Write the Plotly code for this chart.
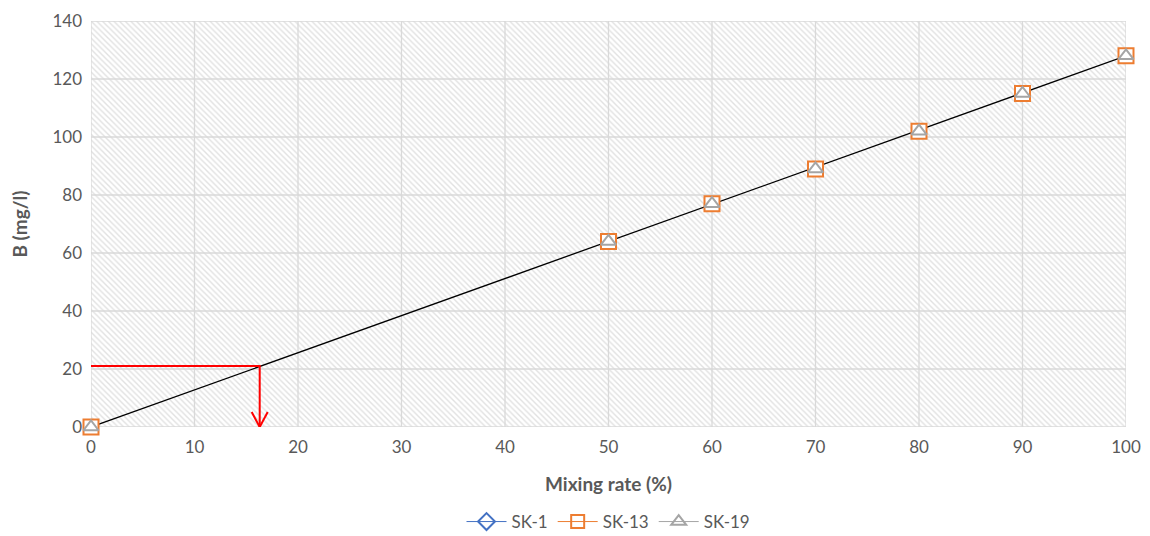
import plotly.graph_objects as go

mixing_rate = [0, 50, 60, 70, 80, 90, 100]
sk1 = [0, 64, 77, 89, 102, 115, 128]
sk13 = [0, 64, 77, 89, 102, 115, 128]
sk19 = [0, 64, 77, 89, 102, 115, 128]
trend_x = [0, 100]
trend_y = [0, 128]
guide_b = 21
guide_rate = 16.3

fig = go.Figure()

# hatched plot background
fig.add_trace(go.Scatter(
    x=[0, 100, 100, 0, 0], y=[0, 0, 140, 140, 0], mode="lines",
    line=dict(width=0), fill="toself", fillcolor="rgba(0,0,0,0)",
    fillpattern=dict(shape="\\", fgcolor="#c4c4c4", bgcolor="white", size=4, solidity=0.35),
    hoverinfo="skip", showlegend=False))

# gridlines on top of hatch
for gx in range(0, 101, 10):
    fig.add_trace(go.Scatter(x=[gx, gx], y=[0, 140], mode="lines",
                             line=dict(color="#d9d9d9", width=1.3), hoverinfo="skip", showlegend=False))
for gy in range(0, 141, 20):
    fig.add_trace(go.Scatter(x=[0, 100], y=[gy, gy], mode="lines",
                             line=dict(color="#d9d9d9", width=1.3), hoverinfo="skip", showlegend=False))

# trend line
fig.add_trace(go.Scatter(x=trend_x, y=trend_y, mode="lines",
                         line=dict(color="#000000", width=1.3), showlegend=False, hoverinfo="skip"))

# red guide
fig.add_trace(go.Scatter(x=[0, guide_rate, guide_rate], y=[guide_b, guide_b, 0], mode="lines",
                         line=dict(color="#ff0000", width=2), showlegend=False, hoverinfo="skip"))
for dx in (-8, 8):
    fig.add_shape(type="line", xref="x", yref="y", xsizemode="pixel", ysizemode="pixel",
                  xanchor=guide_rate, yanchor=0, x0=0, y0=0, x1=dx, y1=15,
                  line=dict(color="#ff0000", width=2))

series = [
    ("SK-1", sk1, "#4472c4", "diamond", 9),
    ("SK-13", sk13, "#ed7d31", "square", 15),
    ("SK-19", sk19, "#a5a5a5", "triangle-up-open", 13),
]
for name, vals, col, sym, sz in series:
    fill = "white" if sym == "square" else col
    fig.add_trace(go.Scatter(x=mixing_rate, y=vals, mode="markers", name=name, showlegend=False,
                             marker=dict(symbol=sym, size=sz, color=fill, line=dict(width=2, color=col))))
# legend entries
for name, vals, col, sym, sz in series:
    lsym = sym.replace("-open", "") + "-open"
    fig.add_trace(go.Scatter(x=[None], y=[None], mode="lines+markers", name=name,
                             marker=dict(symbol=lsym, size=13, color=col, line=dict(width=2)),
                             line=dict(color=col, width=1)))

fig.update_layout(
    width=1142, height=528,
    margin=dict(l=83, r=24, t=13, b=109, autoexpand=False),
    paper_bgcolor="white", plot_bgcolor="white",
    font=dict(family="Lato, Open Sans, sans-serif", color="#595959", size=17),
    showlegend=True,
    legend=dict(orientation="h", x=0.5, xanchor="center", y=-0.234, yanchor="middle",
                font=dict(size=17, color="#595959"), itemwidth=40),
    xaxis=dict(range=[0, 100], tickvals=list(range(0, 101, 10)), showgrid=False, zeroline=False,
               showline=False, ticks="", ticklabelstandoff=8, automargin=False,
               title=dict(text="<b>Mixing rate (%)</b>", font=dict(size=19, color="#595959"), standoff=21)),
    yaxis=dict(range=[0, 140], tickvals=list(range(0, 141, 20)), showgrid=False, zeroline=False,
               showline=False, ticks="", ticklabelstandoff=8, automargin=False,
               title=dict(text="<b>B (mg/l)</b>", font=dict(size=19, color="#595959"), standoff=20)),
)
for tr in fig.data:
    tr.cliponaxis = False

fig.write_html("out.html")
